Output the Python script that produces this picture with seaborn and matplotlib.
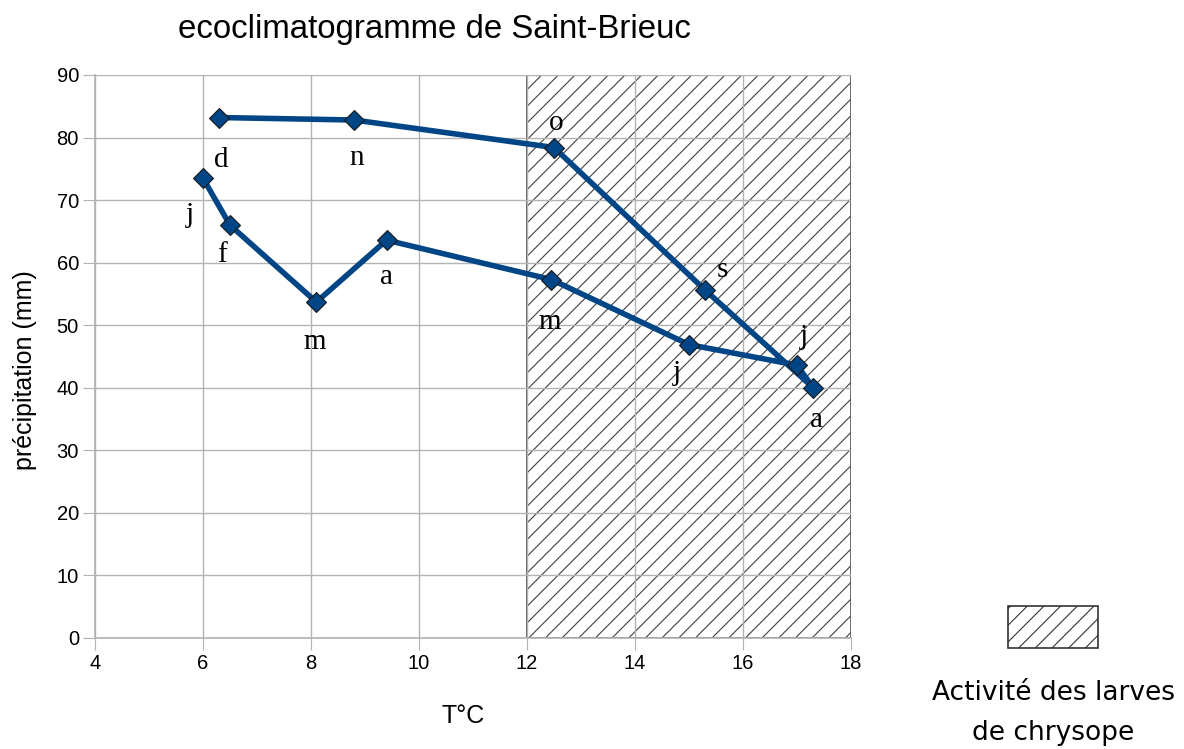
import matplotlib
matplotlib.use("Agg")
import matplotlib.pyplot as plt
import seaborn as sns
import pandas as pd
from matplotlib.patches import Rectangle

# monthly values, Saint-Brieuc (Jan -> Dec)
months = ["j", "f", "m", "a", "m", "j", "j", "a", "s", "o", "n", "d"]
temperature = [6.0, 6.5, 8.1, 9.4, 12.45, 15.0, 17.0, 17.3, 15.3, 12.5, 8.8, 6.3]
precipitation = [73.5, 66.0, 53.7, 63.6, 57.3, 46.9, 43.6, 40.0, 55.6, 78.4, 82.8, 83.2]

# larvae activity zone
zone_tmin, zone_tmax = 12, 18

# label offsets in pixels (placement only)
label_offsets = [(-13, -37), (-8, -30), (-2, -40), (0, -37), (-2, -42), (-12, -28),
                 (7, 28), (3, -32), (17, 20), (2, 25), (2, -38), (2, -42)]

df = pd.DataFrame({"mois": months, "T": temperature, "P": precipitation})

sns.set_style("white")
plt.rcParams["font.family"] = ["Liberation Sans", "DejaVu Sans"]
plt.rcParams["text.color"] = "black"
plt.rcParams["axes.labelcolor"] = "black"
plt.rcParams["xtick.color"] = "black"
plt.rcParams["ytick.color"] = "black"
plt.rcParams["hatch.linewidth"] = 0.8
plt.rcParams["hatch.color"] = "black"

fig = plt.figure(figsize=(11.84, 7.49), dpi=100)
ax = fig.add_axes([0.0802, 0.1482, 0.6386, 0.7517])

ax.add_patch(Rectangle((zone_tmin, 0), zone_tmax - zone_tmin, 90, facecolor="none",
                       edgecolor="#404040", hatch="//", linewidth=1.2, zorder=0.5))

sns.lineplot(data=df, x="T", y="P", sort=False, color="#004586", linewidth=4,
             marker="D", markersize=10, markeredgecolor="#1a1a1a",
             markeredgewidth=0.8, ax=ax, zorder=3)

for (lab, t, p), off in zip(zip(months, temperature, precipitation), label_offsets):
    ax.annotate(lab, (t, p), xytext=off, textcoords="offset pixels",
                ha="center", va="center", fontsize=21, family="Liberation Serif",
                color="black", zorder=4)

ax.set_xlim(4, 18)
ax.set_ylim(0, 90)
ax.set_xticks(range(4, 19, 2))
ax.set_yticks(range(0, 91, 10))
ax.grid(True, color="#b3b3b3", linewidth=1.0)
ax.set_axisbelow(False)
for line in ax.get_xgridlines() + ax.get_ygridlines():
    line.set_zorder(1)

for s in ["top", "right"]:
    ax.spines[s].set_visible(False)
for s in ["left", "bottom"]:
    ax.spines[s].set_color("#b3b3b3")
    ax.spines[s].set_linewidth(1.2)

ax.tick_params(axis="both", which="both", length=8.5, color="#b3b3b3",
               labelsize=14.5, pad=3, left=True, bottom=True, labelcolor="black")

ax.set_xlabel("T°C", fontsize=18, va="center", ha="center")
ax.xaxis.set_label_coords(0.487, -0.1386)
ax.set_ylabel("précipitation (mm)", fontsize=18, va="center", ha="center")
ax.yaxis.set_label_coords(-0.0926, 0.476)
fig.text(0.367, 0.96, "ecoclimatogramme de Saint-Brieuc", ha="center", va="center",
         fontsize=23.8)

# legend block
leg = Rectangle((1008 / 1184, 1 - 648 / 749), 90 / 1184, 42 / 749,
                transform=fig.transFigure, facecolor="none", edgecolor="#333333",
                hatch="//", linewidth=1.2)
fig.patches.append(leg)
fig.text(1053 / 1184, 1 - 693 / 749, "Activité des larves", ha="center", va="center",
         fontsize=19, family="DejaVu Sans")
fig.text(1053 / 1184, 1 - 733 / 749, "de chrysope", ha="center", va="center",
         fontsize=19, family="DejaVu Sans")

fig.savefig("out.png", dpi=100)
